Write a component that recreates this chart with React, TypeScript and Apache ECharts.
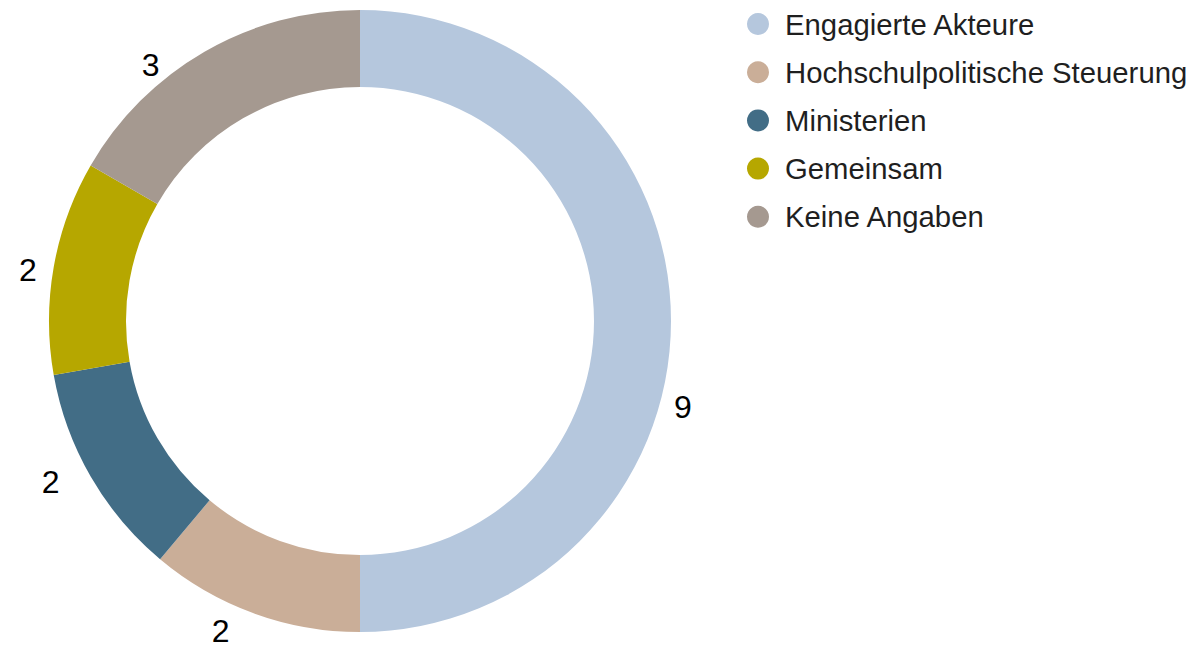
import React, { useEffect, useRef } from "react";
import * as echarts from "echarts";

const categories = [
  "Engagierte Akteure",
  "Hochschulpolitische Steuerung",
  "Ministerien",
  "Gemeinsam",
  "Keine Angaben",
];
const values = [9, 2, 2, 2, 3];
const colors = ["#b5c7dd", "#caae98", "#426d86", "#b6a700", "#a59990"];
// label nudges (style only), px
const labelOffsets = [
  [-8, 86],
  [-17, 12],
  [-21, 2],
  [-6, 4],
  [-37, 19],
];

const FONT = "Liberation Sans, Arial, Helvetica, sans-serif";

export default function App() {
  const ref = useRef<HTMLDivElement>(null);
  useEffect(() => {
    if (!ref.current) return;
    const chart = echarts.init(ref.current, undefined, { renderer: "svg" });
    chart.setOption({
      animation: false,
      color: colors,
      legend: {
        orient: "vertical",
        left: 742,
        top: 4.5,
        icon: "circle",
        itemWidth: 22,
        itemHeight: 22,
        itemGap: 19.2,
        textStyle: {
          fontFamily: FONT,
          fontSize: 29.3,
          color: "#1f1f1f",
          padding: [0, 0, 0, 11],
        },
        data: categories,
      },
      series: [
        {
          type: "pie",
          center: [360, 321],
          radius: [234, 311],
          startAngle: 90,
          clockwise: true,
          avoidLabelOverlap: false,
          label: {
            show: true,
            position: "outside",
            formatter: "{c}",
            fontFamily: FONT,
            fontSize: 32,
            color: "#000",
          },
          labelLine: { show: false, length: 6, length2: 0 },
          itemStyle: { borderWidth: 0 },
          emphasis: { disabled: true },
          data: categories.map((name, i) => ({
            name,
            value: values[i],
            label: { offset: labelOffsets[i] },
          })),
        },
      ],
    });
    return () => chart.dispose();
  }, []);
  return (
    <div
      ref={ref}
      style={{ position: "fixed", left: 0, top: 0, width: 1195, height: 649, background: "#fff" }}
    />
  );
}
